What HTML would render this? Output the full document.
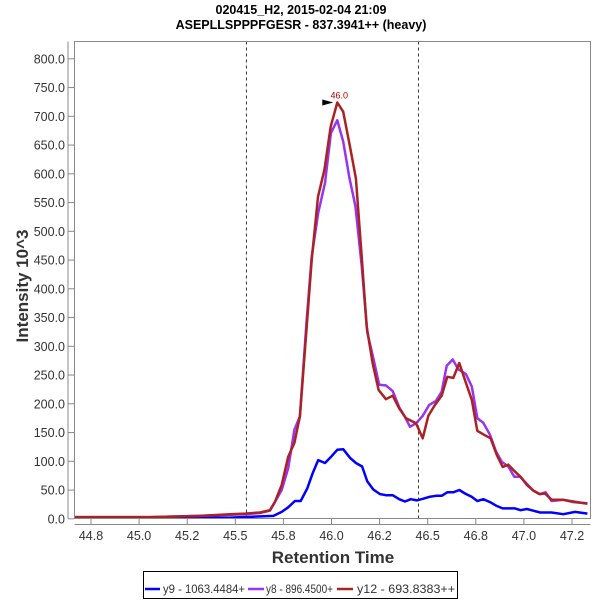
<!DOCTYPE html>
<html><head><meta charset="utf-8"><style>
body{margin:0;background:#fff;}
svg{display:block;font-family:"Liberation Sans",sans-serif;}
</style></head><body>
<svg id="chart" width="600" height="600" viewBox="0 0 600 600">
<text x="301" y="14" text-anchor="middle" font-size="12.5" font-weight="bold">020415_H2, 2015-02-04 21:09</text>
<text x="301" y="29" text-anchor="middle" font-size="12.5" font-weight="bold">ASEPLLSPPPFGESR - 837.3941++ (heavy)</text>
<g id="yticks"></g>
<g id="xticks"></g>
<g id="marks"></g>
<rect x="74.5" y="41.5" width="516" height="477" fill="none" stroke="#888" stroke-width="1"/>
<text transform="translate(28,286) rotate(-90)" text-anchor="middle" font-size="17" font-weight="bold" fill="#333">Intensity 10^3</text>
<text x="333" y="563" text-anchor="middle" font-size="17" font-weight="bold" fill="#333">Retention Time</text>
<g>
<rect x="143.5" y="571.5" width="314" height="27" fill="#fff" stroke="#000"/>
<g><line x1="145" y1="589" x2="160" y2="589" stroke="#0000ff" stroke-width="2.5"/><text x="163" y="593" font-size="12" fill="#333" textLength="82" lengthAdjust="spacingAndGlyphs">y9 - 1063.4484+</text></g>
<g><line x1="248" y1="589" x2="264" y2="589" stroke="#9933ee" stroke-width="2.5"/><text x="266" y="593" font-size="12" fill="#333" textLength="67" lengthAdjust="spacingAndGlyphs">y8 - 896.4500+</text></g>
<g><line x1="337" y1="589" x2="353" y2="589" stroke="#aa2222" stroke-width="2.5"/><text x="357" y="593" font-size="12" fill="#333" textLength="98" lengthAdjust="spacingAndGlyphs">y12 - 693.8383++</text></g>
</g>
</svg>
<script>
const yTickValues=[0,50,100,150,200,250,300,350,400,450,500,550,600,650,700,750,800];
const xTickValues=[44.75,45,45.25,45.5,45.75,46,46.25,46.5,46.75,47,47.25];
const xTickLabels=["44.8","45.0","45.2","45.5","45.8","46.0","46.2","46.5","46.8","47.0","47.2"];
const boundaryTimes=[45.558,46.452];
const peakTime=46.030, peakValue=724, peakLabel="46.0";
const y12Times=[44.667,45.057,45.317,45.472,45.550,45.628,45.680,45.706,45.741,45.775,45.807,45.836,45.871,45.897,45.930,45.963,45.996,46.030,46.061,46.096,46.127,46.157,46.183,46.214,46.245,46.283,46.318,46.352,46.387,46.439,46.474,46.503,46.538,46.573,46.602,46.633,46.664,46.694,46.729,46.758,46.793,46.827,46.859,46.890,46.919,46.954,46.983,47.015,47.049,47.080,47.110,47.144,47.205,47.257,47.330];
const y12Values=[3,3,5,8,9,11,15,29,59,108,132,178,334,450,560,607,682,724,708,647,592,456,334,270,224,208,214,192,175,166,140,179,198,214,247,245,271,241,207,153,146,140,111,90,94,82,73,59,49,43,44,33,33,30,26];
const y8Times=[44.667,45.057,45.317,45.472,45.550,45.628,45.680,45.741,45.775,45.807,45.836,45.871,45.897,45.931,45.966,45.997,46.030,46.061,46.093,46.124,46.157,46.186,46.214,46.248,46.283,46.318,46.352,46.382,46.408,46.439,46.474,46.508,46.543,46.573,46.599,46.630,46.659,46.698,46.729,46.758,46.789,46.824,46.855,46.885,46.919,46.950,46.980,47.015,47.049,47.084,47.113,47.144,47.205,47.257,47.330];
const y8Values=[3,3,5,7,8,10,14,50,88,155,178,346,456,532,584,671,693,656,593,544,440,324,284,233,232,222,194,177,160,166,179,198,205,221,266,277,260,252,230,175,167,146,117,99,91,73,73,61,49,43,46,31,33,29,27];
const y9Times=[44.667,45.057,45.472,45.698,45.741,45.775,45.810,45.840,45.874,45.902,45.931,45.966,46.001,46.030,46.061,46.096,46.127,46.159,46.186,46.217,46.252,46.283,46.318,46.352,46.382,46.412,46.443,46.477,46.508,46.543,46.573,46.602,46.633,46.664,46.694,46.729,46.758,46.789,46.824,46.855,46.890,46.919,46.954,46.983,47.015,47.049,47.084,47.144,47.205,47.266,47.330];
const y9Values=[2,2,2,5,12,20,31,31,53,79,102,97,109,120,121,106,97,91,65,51,43,41,41,34,30,34,32,35,38,40,40,46,46,50,44,38,31,34,29,23,18,18,18,15,17,14,11,11,8,12,9];

const NS="http://www.w3.org/2000/svg";
const X0=74.5,X1=590.5,Y0=41.5,Y1=518.5;
function sx(t){return 331.5+(t-46)*192.4;}
function sy(v){return 518.8-v*0.575;}
function mk(tag,attrs,parent){const e=document.createElementNS(NS,tag);for(const k in attrs)e.setAttribute(k,attrs[k]);parent.appendChild(e);return e;}
const yt=document.getElementById('yticks'),xt=document.getElementById('xticks'),mg=document.getElementById('marks');
mk('line',{x1:68,y1:Y0,x2:68,y2:Y1,stroke:'#888'},yt);
yTickValues.forEach(v=>{
  const y=sy(v);
  const l=mk('line',{x1:68,y1:y,x2:74,y2:y,stroke:'#888'},yt);
  
  
  const t=mk('text',{x:65,y:y+4.5,'text-anchor':'end','font-size':12.5,fill:'#333'},yt);
  t.textContent=v.toFixed(1);
  
  
});
mk('line',{x1:X0,y1:524.5,x2:X1,y2:524.5,stroke:'#888'},xt);
xTickValues.forEach((v,i)=>{
  const x=sx(v);
  const l=mk('line',{x1:x,y1:519,x2:x,y2:525,stroke:'#888'},xt);
  
  
  const t=mk('text',{x:x,y:540,'text-anchor':'middle','font-size':12.5,fill:'#333'},xt);
  t.textContent=xTickLabels[i];
  
  
});
boundaryTimes.forEach(b=>{
  const l=mk('line',{x1:sx(b),y1:Y0,x2:sx(b),y2:Y1,stroke:'#333','stroke-dasharray':'3,3','stroke-width':1},mg);
  
  
});
function series(ts,vs,color,name){
  const d=ts.map((t,i)=>(i?'L':'M')+sx(t).toFixed(1)+','+sy(vs[i]).toFixed(1)).join('');
  const p=mk('path',{d:d,fill:'none',stroke:color,'stroke-width':2.5,'stroke-linejoin':'round'},mg);
  
  
}
series(y9Times,y9Values,'#0000ff','series-y9-line');
series(y8Times,y8Values,'#9933ee','series-y8-line');
series(y12Times,y12Values,'#aa2222','series-y12-line');
const px=sx(peakTime),py=sy(peakValue);
const tri=mk('polygon',{points:(px-15)+','+(py-3)+' '+(px-4)+','+py+' '+(px-15)+','+(py+3),fill:'#000'},mg);


const pl=mk('text',{x:px+2,y:py-4,'text-anchor':'middle','font-size':9,fill:'#aa0000'},mg);
pl.textContent=peakLabel;


</script>
</body></html>
